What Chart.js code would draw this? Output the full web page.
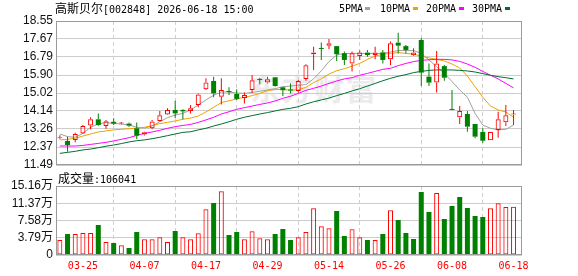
<!DOCTYPE html>
<html><head><meta charset="utf-8">
<script src="https://cdn.jsdelivr.net/npm/chart.js@4.4.1/dist/chart.umd.min.js"></script>
<style>
html,body{margin:0;padding:0;background:#fff;}
#wrap{position:relative;width:578px;height:276px;overflow:hidden;background:#fff;}
canvas{position:absolute;left:0;top:0;}
.t{position:absolute;white-space:nowrap;line-height:12px;color:#000;}
.cjk{font-family:"Noto Sans CJK SC";font-size:12px;}
.mono{font-family:"DejaVu Sans Mono";font-size:10px;}
.sq{position:absolute;width:5px;height:3px;}
#wm{position:absolute;left:250px;top:70px;font:bold 30px "Noto Sans CJK SC";color:#ebebee;letter-spacing:2px;line-height:34px;}
</style></head><body>
<div id="wrap">
<div id="wm">东方财富</div>
<canvas id="pc" width="578" height="276"></canvas>
<canvas id="vc" width="578" height="276"></canvas>
<div class="t" style="left:55px;top:2px"><span class="cjk">高斯贝尔</span><span class="mono">[002848] 2026-06-18 15:00</span></div>
<div class="t mono" style="left:339px;top:3px">5PMA</div><div class="sq" style="left:365px;top:7px;background:#a0a0a0"></div>
<div class="t mono" style="left:380px;top:3px">10PMA</div><div class="sq" style="left:413px;top:7px;background:#f2a100"></div>
<div class="t mono" style="left:426px;top:3px">20PMA</div><div class="sq" style="left:459px;top:7px;background:#ff00ff"></div>
<div class="t mono" style="left:472px;top:3px">30PMA</div><div class="sq" style="left:505px;top:7px;background:#006f2e"></div>
<div class="t" style="left:58px;top:172px"><span class="cjk">成交量</span><span class="mono">:106041</span></div>
</div>
<script>
const dates = ["03-20","03-23","03-24","03-25","03-26","03-27","03-30","03-31","04-01","04-02",
"04-03","04-07","04-08","04-09","04-10","04-13","04-14","04-15","04-16","04-17",
"04-20","04-21","04-22","04-23","04-24","04-27","04-28","04-29","04-30","05-06",
"05-07","05-08","05-11","05-12","05-13","05-14","05-15","05-18","05-19","05-20",
"05-21","05-22","05-25","05-26","05-27","05-28","05-29","06-01","06-02","06-03",
"06-04","06-08","06-09","06-10","06-11","06-12","06-15","06-16","06-17","06-18"];
const labelIdx = [3,11,19,27,35,43,51,59];
const openP  = [12.80,12.67,12.71,13.04,13.43,13.73,13.40,13.61,13.52,13.52,
13.29,12.99,13.29,13.65,13.97,14.19,14.19,14.14,14.43,15.20,
15.61,14.84,15.10,14.97,14.77,15.17,15.70,15.54,15.79,15.30,
15.18,15.12,15.71,16.92,17.23,17.34,17.32,16.97,16.47,16.83,
17.00,16.88,17.01,16.67,17.49,17.32,16.87,17.62,15.82,15.54,
16.34,14.20,13.83,13.99,13.50,13.11,12.70,13.21,13.58,13.96];
const highP  = [12.95,12.88,13.07,13.45,13.83,14.02,13.70,13.78,13.60,13.57,
13.57,13.12,13.70,14.14,14.27,14.64,14.22,14.43,15.00,15.74,
15.82,15.74,15.30,15.20,15.04,15.90,15.77,15.82,15.81,15.33,
15.49,15.66,16.43,17.29,17.50,17.67,17.33,17.05,17.05,17.10,
17.13,17.29,17.13,17.54,17.98,17.37,17.21,17.70,16.47,17.08,
16.39,15.17,14.38,14.14,13.50,13.29,13.11,14.10,14.43,14.19];
const lowP   = [12.75,12.14,12.60,13.01,13.24,13.42,13.27,13.45,13.48,13.37,
12.76,12.94,13.24,13.62,13.94,13.78,13.73,14.02,14.32,15.17,
14.81,14.46,14.92,14.68,14.51,15.02,15.45,15.49,15.34,14.87,
15.00,15.05,15.62,16.15,16.64,17.16,16.59,16.39,16.07,16.64,
16.80,16.67,16.47,16.39,16.96,16.96,16.83,15.36,15.36,15.04,
15.62,14.19,13.50,13.12,12.80,12.58,12.70,12.83,13.40,13.45];
const closeP = [12.85,12.47,13.01,13.40,13.73,13.45,13.63,13.52,13.55,13.42,
12.93,13.09,13.62,13.93,14.19,14.02,14.12,14.27,14.95,15.54,
15.00,15.17,15.07,14.73,14.92,15.64,15.66,15.69,15.36,15.16,
15.14,15.61,16.38,17.00,17.18,17.46,16.92,16.64,16.97,17.00,
16.88,17.00,16.64,17.46,17.34,17.13,17.00,16.02,15.53,16.47,
15.77,14.19,14.14,13.37,12.88,12.68,13.11,13.73,13.93,13.99];
const volume = [3.30,4.61,4.61,4.83,4.83,6.59,2.86,2.64,2.12,1.54,
5.05,3.44,3.44,3.88,2.86,5.27,3.88,3.44,4.76,10.03,
11.42,13.99,4.39,5.05,3.44,5.20,3.66,3.44,4.61,5.71,
3.30,3.88,5.05,10.25,6.30,5.86,9.67,4.17,5.64,3.88,
3.30,3.30,4.61,9.81,7.69,4.83,3.52,13.84,9.45,13.62,
7.91,10.77,12.74,10.33,8.57,8.35,10.25,11.35,10.55,10.6041];
const ma5 = [13.01,12.88,12.85,13.04,13.34,13.50,13.57,13.53,13.50,13.45,
13.34,13.30,13.40,13.61,13.81,13.94,14.02,14.19,14.43,14.68,
14.91,15.07,15.07,15.02,15.00,15.05,15.10,15.17,15.23,15.33,
15.36,15.40,15.43,15.71,16.11,16.56,16.88,16.96,16.96,16.96,
16.96,16.96,16.96,17.03,17.10,17.11,17.10,16.96,16.64,16.31,
15.98,15.58,15.17,14.81,14.02,13.45,13.29,13.21,13.24,13.45];
const ma10 = [12.72,12.75,12.80,12.91,13.01,13.11,13.16,13.21,13.24,13.27,
13.30,13.34,13.42,13.52,13.58,13.65,13.73,13.79,13.89,14.09,
14.32,14.55,14.64,14.73,14.81,14.89,15.00,15.13,15.20,15.18,
15.17,15.17,15.30,15.53,15.71,15.95,16.11,16.21,16.34,16.47,
16.67,16.83,16.92,16.96,17.00,16.96,16.92,16.83,16.74,16.67,
16.59,16.44,16.25,15.85,15.33,14.81,14.38,14.19,14.09,13.83];
const ma20 = [12.42,12.42,12.42,12.45,12.50,12.55,12.60,12.67,12.75,12.83,
12.94,13.04,13.11,13.19,13.29,13.37,13.43,13.48,13.58,13.70,
13.83,13.99,14.10,14.22,14.30,14.38,14.46,14.53,14.63,14.76,
14.86,15.00,15.15,15.25,15.36,15.49,15.61,15.71,15.77,15.89,
15.98,16.08,16.18,16.23,16.36,16.47,16.56,16.62,16.65,16.67,
16.67,16.64,16.57,16.44,16.28,16.08,15.89,15.71,15.49,15.27];
const ma30 = [12.06,12.11,12.16,12.23,12.27,12.34,12.41,12.47,12.54,12.62,
12.68,12.72,12.78,12.85,12.93,13.01,13.09,13.12,13.21,13.29,
13.40,13.50,13.61,13.73,13.83,13.91,13.99,14.06,14.14,14.22,
14.27,14.35,14.48,14.59,14.68,14.77,14.89,15.00,15.12,15.23,
15.36,15.49,15.62,15.74,15.84,15.92,16.02,16.08,16.13,16.15,
16.15,16.15,16.13,16.10,16.05,15.97,15.89,15.82,15.77,15.71];
const priceTicks = [11.49,12.37,13.26,14.14,15.02,15.90,16.79,17.67,18.55];
const volTicks = [0,3.79,7.58,11.37,15.16];

const RED = '#ff0000', GREEN = '#008000';
const idx = dates.map((d,i)=>i);
const up = idx.map(i=>closeP[i] >= openP[i]);
const volUp = idx.map(i=> i===0 ? closeP[0]>=openP[0] : closeP[i] >= closeP[i-1]);
const candleCol = idx.map(i=> up[i] ? RED : GREEN);
const XMIN = -0.5, XMAX = 60.1;

const framePlugin = {
  id:'frame',
  afterDatasetsDraw(chart){
    const {ctx, chartArea:a} = chart;
    ctx.save();
    ctx.strokeStyle = '#9a9a9a'; ctx.lineWidth = 1;
    ctx.strokeRect(Math.round(a.left)+0.5, Math.round(a.top)+0.5,
      Math.round(a.right)-Math.round(a.left)-1, Math.round(a.bottom)-Math.round(a.top)-1);
    ctx.restore();
  }
};

function xScale(showLabels){
  return {
    type:'linear', min:XMIN, max:XMAX, offset:false,
    afterBuildTicks: s => { s.ticks = labelIdx.map(v=>({value:v})); },
    ticks: showLabels ? {autoSkip:false, maxRotation:0, padding:5, color:RED,
      font:{family:'DejaVu Sans Mono', size:10}, callback: v => dates[v]} : {display:false},
    grid:{color:'#cfcfcf', drawTicks:false, lineWidth:1},
    border:{display:false, dash:[4,3]},
    afterFit: s => { s.height = showLabels ? 21 : 0; }
  };
}

const lineDs = (arr, col) => ({type:'line', data: idx.map(i=>({x:i, y:arr[i]})), borderColor: col,
  borderWidth:1, pointRadius:0, tension:0, order:5});

new Chart(document.getElementById('pc'), {
  type:'bar',
  data:{ datasets:[
    {data: idx.map(i=>({x:i, y:[openP[i], closeP[i]]})), barThickness:5, grouped:false,
     backgroundColor: idx.map(i=> up[i] ? 'rgba(255,255,255,0)' : GREEN),
     borderColor: candleCol, borderWidth: idx.map(i=> up[i] ? 1 : 0), borderSkipped:false,
     minBarLength:1, inflateAmount:0, order:0},
    {data: idx.map(i=>({x:i, y:[Math.max(openP[i],closeP[i]), highP[i]]})), barThickness:1, grouped:false,
     backgroundColor: candleCol, borderWidth:0, inflateAmount:0, order:1},
    {data: idx.map(i=>({x:i, y:[lowP[i], Math.min(openP[i],closeP[i])]})), barThickness:1, grouped:false,
     backgroundColor: candleCol, borderWidth:0, inflateAmount:0, order:1},
    lineDs(ma30,'#006f2e'), lineDs(ma20,'#ff00ff'), lineDs(ma10,'#f2a100'), lineDs(ma5,'#a0a0a0')
  ]},
  options:{
    responsive:false, animation:false, events:[],
    layout:{padding:{top:21, right:56, bottom:111, left:0}},
    plugins:{legend:{display:false}, tooltip:{enabled:false}},
    scales:{
      x: xScale(false),
      y:{ min:11.49, max:18.55,
        afterBuildTicks: s => { s.ticks = priceTicks.map(v=>({value:v})); },
        ticks:{autoSkip:false, callback: v => v.toFixed(2), color:'#111', padding:3,
          font:{family:'Liberation Sans', size:12}},
        grid:{color:'#cdcdcd', drawTicks:false}, border:{display:false},
        afterFit: s => { s.width = 56; } }
    }
  },
  plugins:[framePlugin]
});

new Chart(document.getElementById('vc'), {
  type:'bar',
  data:{ datasets:[
    {data: idx.map(i=>({x:i, y:volume[i]})), barThickness:5, grouped:false,
     backgroundColor: idx.map(i=> volUp[i] ? 'rgba(255,255,255,0)' : GREEN),
     borderColor: idx.map(i=> volUp[i] ? RED : GREEN), borderWidth: idx.map(i=> volUp[i] ? 1 : 0),
     borderSkipped:false, inflateAmount:0}
  ]},
  options:{
    responsive:false, animation:false, events:[],
    layout:{padding:{top:186, right:56, bottom:0, left:0}},
    plugins:{legend:{display:false}, tooltip:{enabled:false}},
    scales:{
      x: xScale(true),
      y:{ min:0, max:15.16,
        afterBuildTicks: s => { s.ticks = volTicks.map(v=>({value:v})); },
        ticks:{autoSkip:false, callback: v => v===0 ? '0' : v.toFixed(2)+'万', color:'#111', padding:3,
          font:{family:'"Liberation Sans", "Noto Sans CJK SC"', size:12}},
        grid:{color:'#cdcdcd', drawTicks:false}, border:{display:false},
        afterFit: s => { s.width = 56; } }
    }
  },
  plugins:[framePlugin]
});
</script>
</body></html>
